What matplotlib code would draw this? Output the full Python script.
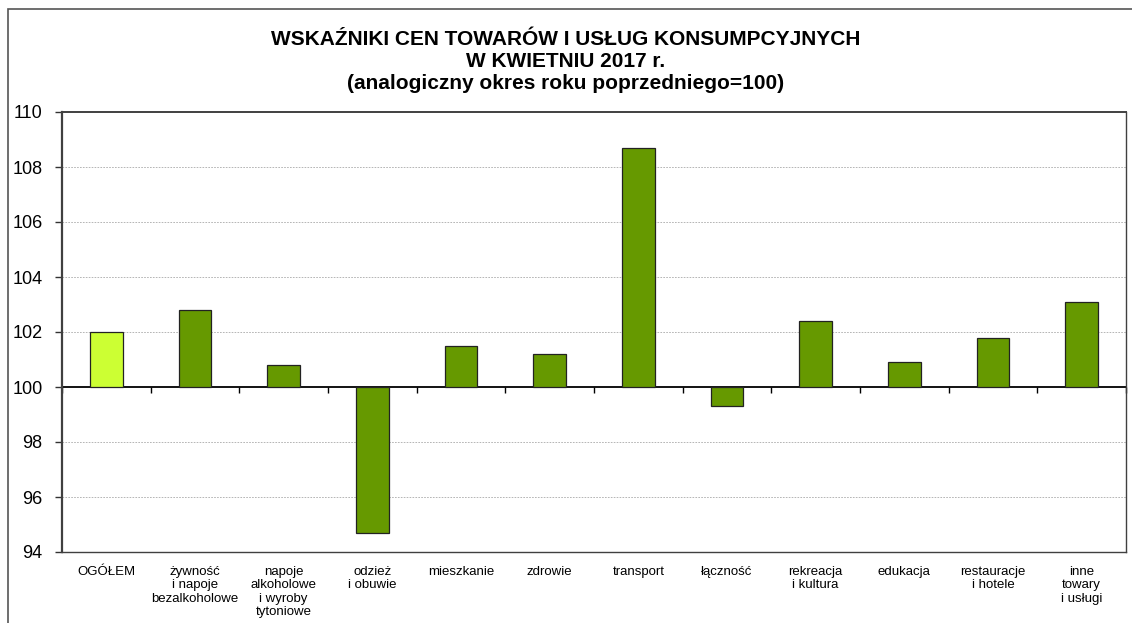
import matplotlib.pyplot as plt
import matplotlib.patches as mpatches
import numpy as np

plt.rcParams['font.family'] = ['Liberation Sans', 'DejaVu Sans']

# categories and index values (same period of previous year = 100)
categories = ['OGÓŁEM', 'żywność\ni napoje\nbezalkoholowe', 'napoje\nalkoholowe\ni wyroby\ntytoniowe',
              'odzież\ni obuwie', 'mieszkanie', 'zdrowie', 'transport', 'łączność',
              'rekreacja\ni kultura', 'edukacja', 'restauracje\ni hotele', 'inne\ntowary\ni usługi']
values = [102.0, 102.8, 100.8, 94.7, 101.5, 101.2, 108.7, 99.3, 102.4, 100.9, 101.8, 103.1]
bar_colors = ['#CCFF33'] + ['#669900'] * 11
yticks = [94, 96, 98, 100, 102, 104, 106, 108, 110]
base = 100

W, H = 1132, 623
fig = plt.figure(figsize=(W / 100, H / 100), dpi=100)
ax = fig.add_axes([62 / W, 1 - 552 / H, (1126 - 62) / W, (552 - 112) / H])

x = np.arange(len(categories))
vals = np.array(values)
ax.bar(x, vals - base, bottom=base, width=0.37, color=bar_colors,
       edgecolor='#222222', linewidth=0.9, zorder=3)

ax.set_xlim(-0.5, len(categories) - 0.5)
ax.set_ylim(94, 110)
ax.set_yticks(yticks)
ax.tick_params(axis='y', labelsize=13, length=5, width=1, pad=9, color='#333333')
ax.set_xticks(x)
ax.set_xticklabels(categories, fontsize=9.5, linespacing=1.15)
ax.tick_params(axis='x', length=0, pad=10)

# dashed grid
for yv in yticks:
    if yv not in (94, 100, 110):
        ax.axhline(yv, color='#aaaaaa', linestyle=(0, (2, 1.5)), linewidth=0.6, zorder=1)

for s in ax.spines.values():
    s.set_color('#404040')
    s.set_linewidth(1.0)
ax.spines['left'].set_linewidth(1.6)
ax.spines['top'].set_linewidth(1.4)

# axis line at 100 with category tick marks
sec = ax.secondary_xaxis((base - 94) / 16)
sec.set_xticks(np.arange(-0.5, len(categories), 1.0))
sec.set_xticklabels([])
sec.tick_params(axis='x', direction='out', length=4, width=1, color='black')
sec.spines['bottom'].set_color('black')
sec.spines['bottom'].set_linewidth(1.3)

fig.text(0.5, 1 - 30 / H,
         'WSKAŹNIKI CEN TOWARÓW I USŁUG KONSUMPCYJNYCH\nW KWIETNIU 2017 r.\n'
         '(analogiczny okres roku poprzedniego=100)',
         ha='center', va='top', fontsize=15.0, fontweight='bold', linespacing=1.2)

# outer chart frame
frame = mpatches.Rectangle((8 / W, -0.1), 1.2, 1.1 - 9 / H, transform=fig.transFigure,
                           fill=False, edgecolor='#555555', linewidth=1.2, clip_on=False)
fig.patches.append(frame)

fig.savefig('out.png', dpi=100)
